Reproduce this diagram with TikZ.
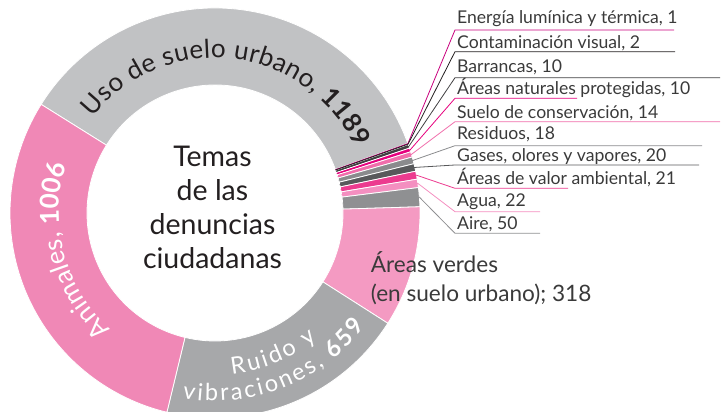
\documentclass[tikz,border=0pt]{standalone}
\usepackage{fontspec}
\setmainfont{Lato}
\usetikzlibrary{calc,decorations.text}

\definecolor{cUso}{HTML}{C1C2C4}
\definecolor{cAnimales}{HTML}{F088B6}
\definecolor{cRuido}{HTML}{A7A8AA}
\definecolor{cVerdes}{HTML}{F49AC2}
\definecolor{cAire}{HTML}{8F9092}
\definecolor{cAgua}{HTML}{F48FC0}
\definecolor{cValor}{HTML}{EC3B8F}
\definecolor{cGases}{HTML}{58595B}
\definecolor{cResiduos}{HTML}{8A8B8D}
\definecolor{cSuelo}{HTML}{F06DAB}
\definecolor{cNaturales}{HTML}{E6007E}
\definecolor{cBarrancas}{HTML}{414042}
\definecolor{cVisual}{HTML}{231F20}
\definecolor{cEnergia}{HTML}{C8007D}
\definecolor{cTexto}{HTML}{3A3A3A}

\newcommand{\ringfont}{\fontsize{26}{26}\selectfont}
\newcommand{\ruidofont}{\fontsize{23.5}{23.5}\selectfont}

\begin{document}
\begin{tikzpicture}[x=1pt,y=1pt,
    seg/.style={draw=white,line width=0.8pt},
    leader/.style={line width=0.8pt},
    lbl/.style={font=\fontsize{17.6}{17.6}\selectfont,text=cTexto,inner sep=0pt}]
    \useasboundingbox (0,0) rectangle (721,412);
    \coordinate (c) at (215,199);
    % anillo
    \foreach \a/\b/\col in {148.00/19.85/cUso, 19.85/19.74/cEnergia, 19.74/19.52/cVisual,
        19.52/18.44/cBarrancas, 18.44/17.37/cNaturales, 17.37/15.86/cSuelo,
        15.86/13.92/cResiduos, 13.92/11.76/cGases, 11.76/9.50/cValor,
        9.50/7.13/cAgua, 7.13/1.74/cAire, 1.74/-32.54/cVerdes,
        -32.54/-103.57/cRuido, -103.57/-212.00/cAnimales}{
        \draw[seg,fill=\col] ($(c)+(\a:128)$) arc[start angle=\a,end angle=\b,radius=128]
            -- ($(c)+(\b:205)$) arc[start angle=\b,end angle=\a,radius=205] -- cycle;
    }
    % etiquetas de la derecha
    \foreach \n/\a/\yb/\yl/\xe/\col/\t in {
        1/19.79/388.7/382/674/cEnergia/{Energía lumínica y térmica, 1},
        2/19.63/363/360.3/675/cVisual/{Contaminación visual, 2},
        3/18.98/339.3/334.3/720/cBarrancas/{Barrancas, 10},
        4/17.90/317/313.7/577/cNaturales/{Áreas naturales protegidas, 10},
        5/16.61/293.7/290.3/720/cSuelo/{Suelo de conservación, 14},
        6/14.89/272.7/266.3/702/cResiduos/{Residuos, 18},
        7/12.84/250.3/247/699/cGases/{Gases, olores y vapores, 20},
        8/10.63/227/223.7/568/cValor/{Áreas de valor ambiental, 21},
        9/8.31/205.3/200.3/540/cAgua/{Agua, 22},
        10/4.43/182.7/178.7/540/cAire/{Aire, 50}}{
        \coordinate (i\n) at ($(c)+(\a:128)$);
        \coordinate (o\n) at ($(c)+(\a:205)$);
        \coordinate (k\n) at (455,\yl);
        \coordinate (e\n) at (\xe,\yl);
        \node[lbl,anchor=base west] (l\n) at (457,\yb) {\t};
        \draw[leader,\col] (i\n) -- (o\n) -- (k\n) -- (e\n);
    }
    % textos sobre el anillo
    \path[decorate,decoration={text along path,text align=fit to path,
        text={|\ringfont\color{cVisual}|Uso de suelo urbano, |\ringfont\bfseries\color{cVisual}|1189}}]
        ($(c)+(142:155)$) arc[start angle=142,end angle=25,radius=155];
    \path[decorate,decoration={text along path,text align=fit to path,
        text={|\ringfont\color{white}|Animales, |\ringfont\bfseries\color{white}|1006}}]
        ($(c)+(228:156)$) arc[start angle=228,end angle=162,radius=156];
    \path[decorate,decoration={text along path,text align=fit to path,
        text={|\ruidofont\color{white}|Ruido y}}]
        ($(c)+(-84:162)$) arc[start angle=-84,end angle=-51,radius=162];
    \path[decorate,decoration={text along path,text align=fit to path,
        text={|\ruidofont\color{white}|vibraciones, |\ruidofont\bfseries\color{white}|659}}]
        ($(c)+(-100:188)$) arc[start angle=-100,end angle=-37,radius=188];
    % centro
    \node[font=\fontsize{28.5}{34}\selectfont,text=cVisual,align=center,anchor=base,inner sep=0pt]
        (titulo) at (212.5,143.7) {Temas\\de las\\denuncias\\ciudadanas};
    \node[font=\fontsize{22.6}{29}\selectfont,text=cTexto,align=left,anchor=base west,inner sep=0pt]
        (verdes) at (370.7,110.3) {Áreas verdes\\(en suelo urbano); 318};
\end{tikzpicture}
\end{document}
